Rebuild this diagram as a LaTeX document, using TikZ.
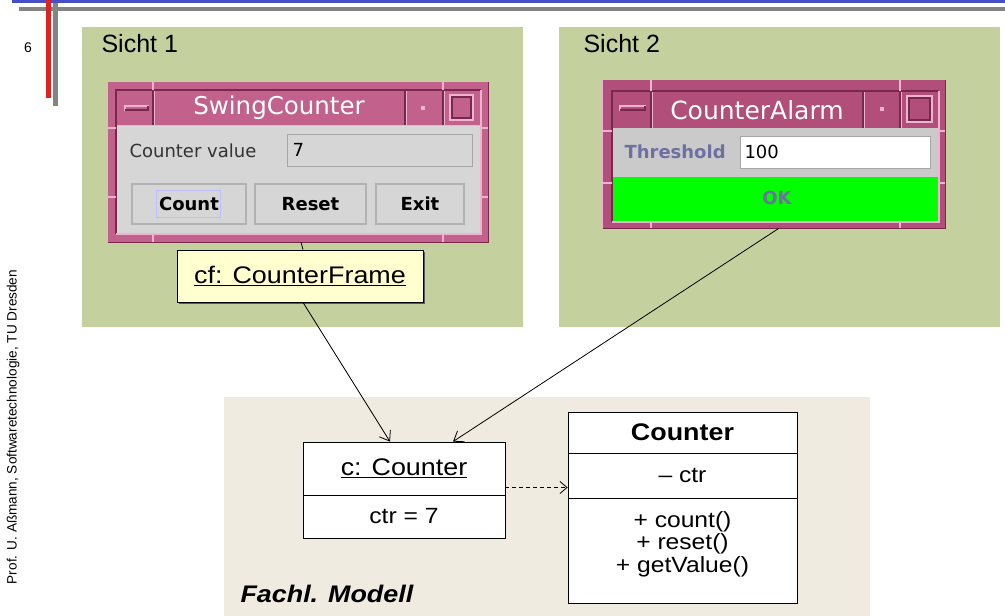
\documentclass[tikz,border=0pt]{standalone}
\usepackage{fontspec}
\setmainfont{Liberation Sans}
\newfontfamily\umlf[FakeStretch=1.12]{Liberation Sans}
\newfontfamily\djf{DejaVu Sans}
\usetikzlibrary{arrows.meta,calc}

\definecolor{panelgreen}{RGB}{196,209,158}
\definecolor{panelbeige}{RGB}{240,235,225}
\definecolor{wpink}{RGB}{194,98,140}
\definecolor{wpinkB}{RGB}{178,78,122}
\definecolor{wlight}{RGB}{236,180,206}
\definecolor{wdark}{RGB}{120,40,76}
\definecolor{wgray}{RGB}{214,214,214}
\definecolor{wgrayB}{RGB}{202,202,202}
\definecolor{cfyellow}{RGB}{255,255,208}
\definecolor{txtblue}{RGB}{110,112,160}
\definecolor{topblue}{RGB}{70,78,200}
\definecolor{barred}{RGB}{222,34,34}
\definecolor{bargray}{RGB}{132,132,132}
\definecolor{okgreen}{RGB}{0,255,0}

\tikzset{
  panel/.style={fill=#1},
  winbody/.style={fill=#1, inner sep=0pt},
  lightline/.style={draw=wlight, line width=1.2pt},
  darkline/.style={draw=wdark, line width=1.2pt},
  btn/.style={draw=gray!60, fill=wgray, line width=1.2pt, inner sep=0pt,
    font=\djf\bfseries\fontsize{18}{20}\selectfont},
  field/.style={draw=gray!70, line width=1pt},
  umlbox/.style={draw=black, fill=white, line width=0.8pt, inner sep=0pt},
  link/.style={draw=black, line width=0.8pt, -{Straight Barb[length=9pt,width=13pt]}},
  deplink/.style={draw=black, line width=0.8pt, dashed, dash pattern=on 4pt off 3pt,
    -{Straight Barb[length=7pt,width=12pt]}},
}

\begin{document}
\begin{tikzpicture}[x=1pt,y=-1pt]
\useasboundingbox (0,0) rectangle (1005,616);

% slide decoration
\fill[topblue] (12,0) rectangle (1005,3);
\fill[bargray] (19,7) rectangle (1005,10.5);
\fill[barred] (45.5,0) rectangle (51,98);
\fill[bargray] (52.5,3) rectangle (58,106);
\node[font=\fontsize{14}{16}\selectfont] (pagenum) at (28,48) {6};
\node[rotate=90, font=\fontsize{13.6}{15}\selectfont] (footer) at (13,427)
  {Prof. U. Aßmann, Softwaretechnologie, TU Dresden};

% panels
\fill[panel=panelgreen] (82,27) rectangle (523,327);
\fill[panel=panelgreen] (559,27) rectangle (1000,327);
\fill[panel=panelbeige] (224,397) rectangle (870,616);
\node[anchor=base west, font=\fontsize{25}{27}\selectfont] (s1) at (98,52) {Sicht 1};
\node[anchor=base west, font=\fontsize{25}{27}\selectfont] (s2) at (580,52) {Sicht 2};

% ---------- SwingCounter window ----------
\node[winbody=wpink, minimum width=380pt, minimum height=160pt] (scwin) at (298,162) {};
\draw[lightline] (scwin.south west) |- (scwin.north east);
\draw[darkline] (scwin.north east) |- (scwin.south west);
\fill[wpink] (117,91) rectangle (480,125);
\fill[wgray] (117,125) rectangle (480,233);
\draw[darkline] (116,234) -- (116,90) -- (481,90);
\draw[lightline] (116,234) -- (481,234) -- (481,90);
\draw[lightline] (117,125.5) -- (480,125.5);
\foreach \sx in {153,405,443}{
  \draw[darkline] (\sx,91) -- (\sx,125);
  \draw[lightline] (\sx+1.5,91) -- (\sx+1.5,125);
}
\foreach \sx in {153,443}{
  \draw[lightline] (\sx,82) -- (\sx,90);
  \draw[lightline] (\sx,234) -- (\sx,242);
}
\foreach \sy in {128,197}{
  \draw[lightline] (108,\sy) -- (116,\sy);
  \draw[lightline] (481,\sy) -- (488,\sy);
}
\draw[lightline, fill=wpink] (125,106) rectangle (148,110);
\draw[darkline] (125,110) -- (148,110) -- (148,106);
\draw[lightline] (450,95) rectangle (473,120);
\draw[darkline] (452,97) rectangle (471,118);
\fill[wlight] (421,106) rectangle (425,110);
\node[text=white, font=\djf\fontsize{24.5}{26}\selectfont] (sctitle) at (279,108) {SwingCounter};
\node[anchor=west, text=black!80, font=\djf\fontsize{18}{20}\selectfont] (cvlabel) at (126,151) {Counter value};
\draw[field, fill=wgray] (287,134) rectangle (472,166);
\node[anchor=west, font=\djf\fontsize{18}{20}\selectfont] (cvfield) at (289,150) {7};
\node[btn, minimum width=114pt, minimum height=40pt] (bcount) at (189,204) {};
\draw[blue!25, line width=1pt] (156,190) rectangle (220,217);
\node[font=\djf\bfseries\fontsize{18}{20}\selectfont] at (bcount) {Count};
\node[btn, minimum width=111pt, minimum height=40pt] (breset) at (310.5,204) {Reset};
\node[btn, minimum width=88pt, minimum height=40pt] (bexit) at (420,204) {Exit};

% ---------- CounterAlarm window ----------
\node[winbody=wpinkB, minimum width=342pt, minimum height=148pt] (cawin) at (774,154) {};
\draw[lightline] (cawin.south west) |- (cawin.north east);
\draw[darkline] (cawin.north east) |- (cawin.south west);
\fill[wpinkB] (613,92) rectangle (938,128);
\fill[wgrayB] (613,128) rectangle (938,177);
\fill[okgreen] (613,177) rectangle (938,221);
\draw[darkline] (612,222) -- (612,91) -- (939,91);
\draw[lightline] (612,222) -- (939,222) -- (939,91);
\foreach \sx in {651,863,900}{
  \draw[darkline] (\sx,92) -- (\sx,128);
  \draw[lightline] (\sx+1.5,92) -- (\sx+1.5,128);
}
\foreach \sx in {651,900}{
  \draw[lightline] (\sx,80) -- (\sx,91);
  \draw[lightline] (\sx,222) -- (\sx,228);
}
\foreach \sy in {131,183}{
  \draw[lightline] (603,\sy) -- (612,\sy);
  \draw[lightline] (939,\sy) -- (945,\sy);
}
\draw[lightline, fill=wpinkB] (620,106) rectangle (645,110);
\draw[darkline] (620,110) -- (645,110) -- (645,106);
\draw[lightline] (907,96) rectangle (932,122);
\draw[darkline] (909,98) rectangle (930,120);
\fill[wlight] (880,107) rectangle (884,111);
\node[text=white, font=\djf\fontsize{25}{27}\selectfont] (catitle) at (757,110) {CounterAlarm};
\node[anchor=west, text=txtblue, font=\djf\bfseries\fontsize{18}{20}\selectfont] (thlabel) at (621,152) {Threshold};
\draw[field, fill=white] (740,136) rectangle (930,168);
\node[anchor=west, font=\djf\fontsize{18}{20}\selectfont] (thfield) at (741,152) {100};
\node[text=txtblue, font=\djf\bfseries\fontsize{18}{20}\selectfont] (okbtn) at (777,198) {OK};

% ---------- cf: CounterFrame ----------
\fill[black!65] (179,252) rectangle (425,304);
\node[draw=black, fill=cfyellow, line width=0.8pt, minimum width=246pt, minimum height=52pt,
      inner sep=0pt, font=\umlf\fontsize{24}{26}\selectfont] (cf) at (300,276)
  {\underline{cf: CounterFrame}};
\draw[line width=0.8pt] ([xshift=3pt]scwin.south) -- ([xshift=3pt]cf.north);

% ---------- model ----------
\node[umlbox, minimum width=202pt, minimum height=53pt, font=\umlf\fontsize{24}{26}\selectfont]
  (ctop) at (404,468.5) {\underline{c: Counter}};
\node[umlbox, minimum width=202pt, minimum height=43pt, font=\umlf\fontsize{22}{24}\selectfont]
  (cbot) at (404,516.5) {ctr = 7};
\node[umlbox, minimum width=229pt, minimum height=41pt, font=\umlf\bfseries\fontsize{24}{26}\selectfont]
  (clsname) at (682.5,432.5) {Counter};
\node[umlbox, minimum width=229pt, minimum height=45pt, font=\umlf\fontsize{22}{24}\selectfont]
  (clsattr) at (682.5,475.5) {– ctr};
\node[umlbox, minimum width=229pt, minimum height=105pt] (clsops) at (682.5,550.5) {};
\node[align=center, inner sep=0pt, font=\umlf\fontsize{22}{22.5}\selectfont] (opstext) at (682.5,544)
  {+ count()\\+ reset()\\+ getValue()};
\node[anchor=base west, font=\umlf\bfseries\itshape\fontsize{24}{26}\selectfont] (fm) at (237,602) {Fachl. Modell};

\coordinate (t1) at ($(ctop.north)+(-14,0)$);
\coordinate (t2) at ($(ctop.north)+(49,0)$);
\draw[link] ([xshift=3pt]cf.south) -- (t1);
\draw[link] ([xshift=5pt]cawin.south) -- (t2);
\draw[deplink] ($(ctop.east)+(0,19)$) -- ($(clsattr.west)+(0,12)$);
\end{tikzpicture}
\end{document}
